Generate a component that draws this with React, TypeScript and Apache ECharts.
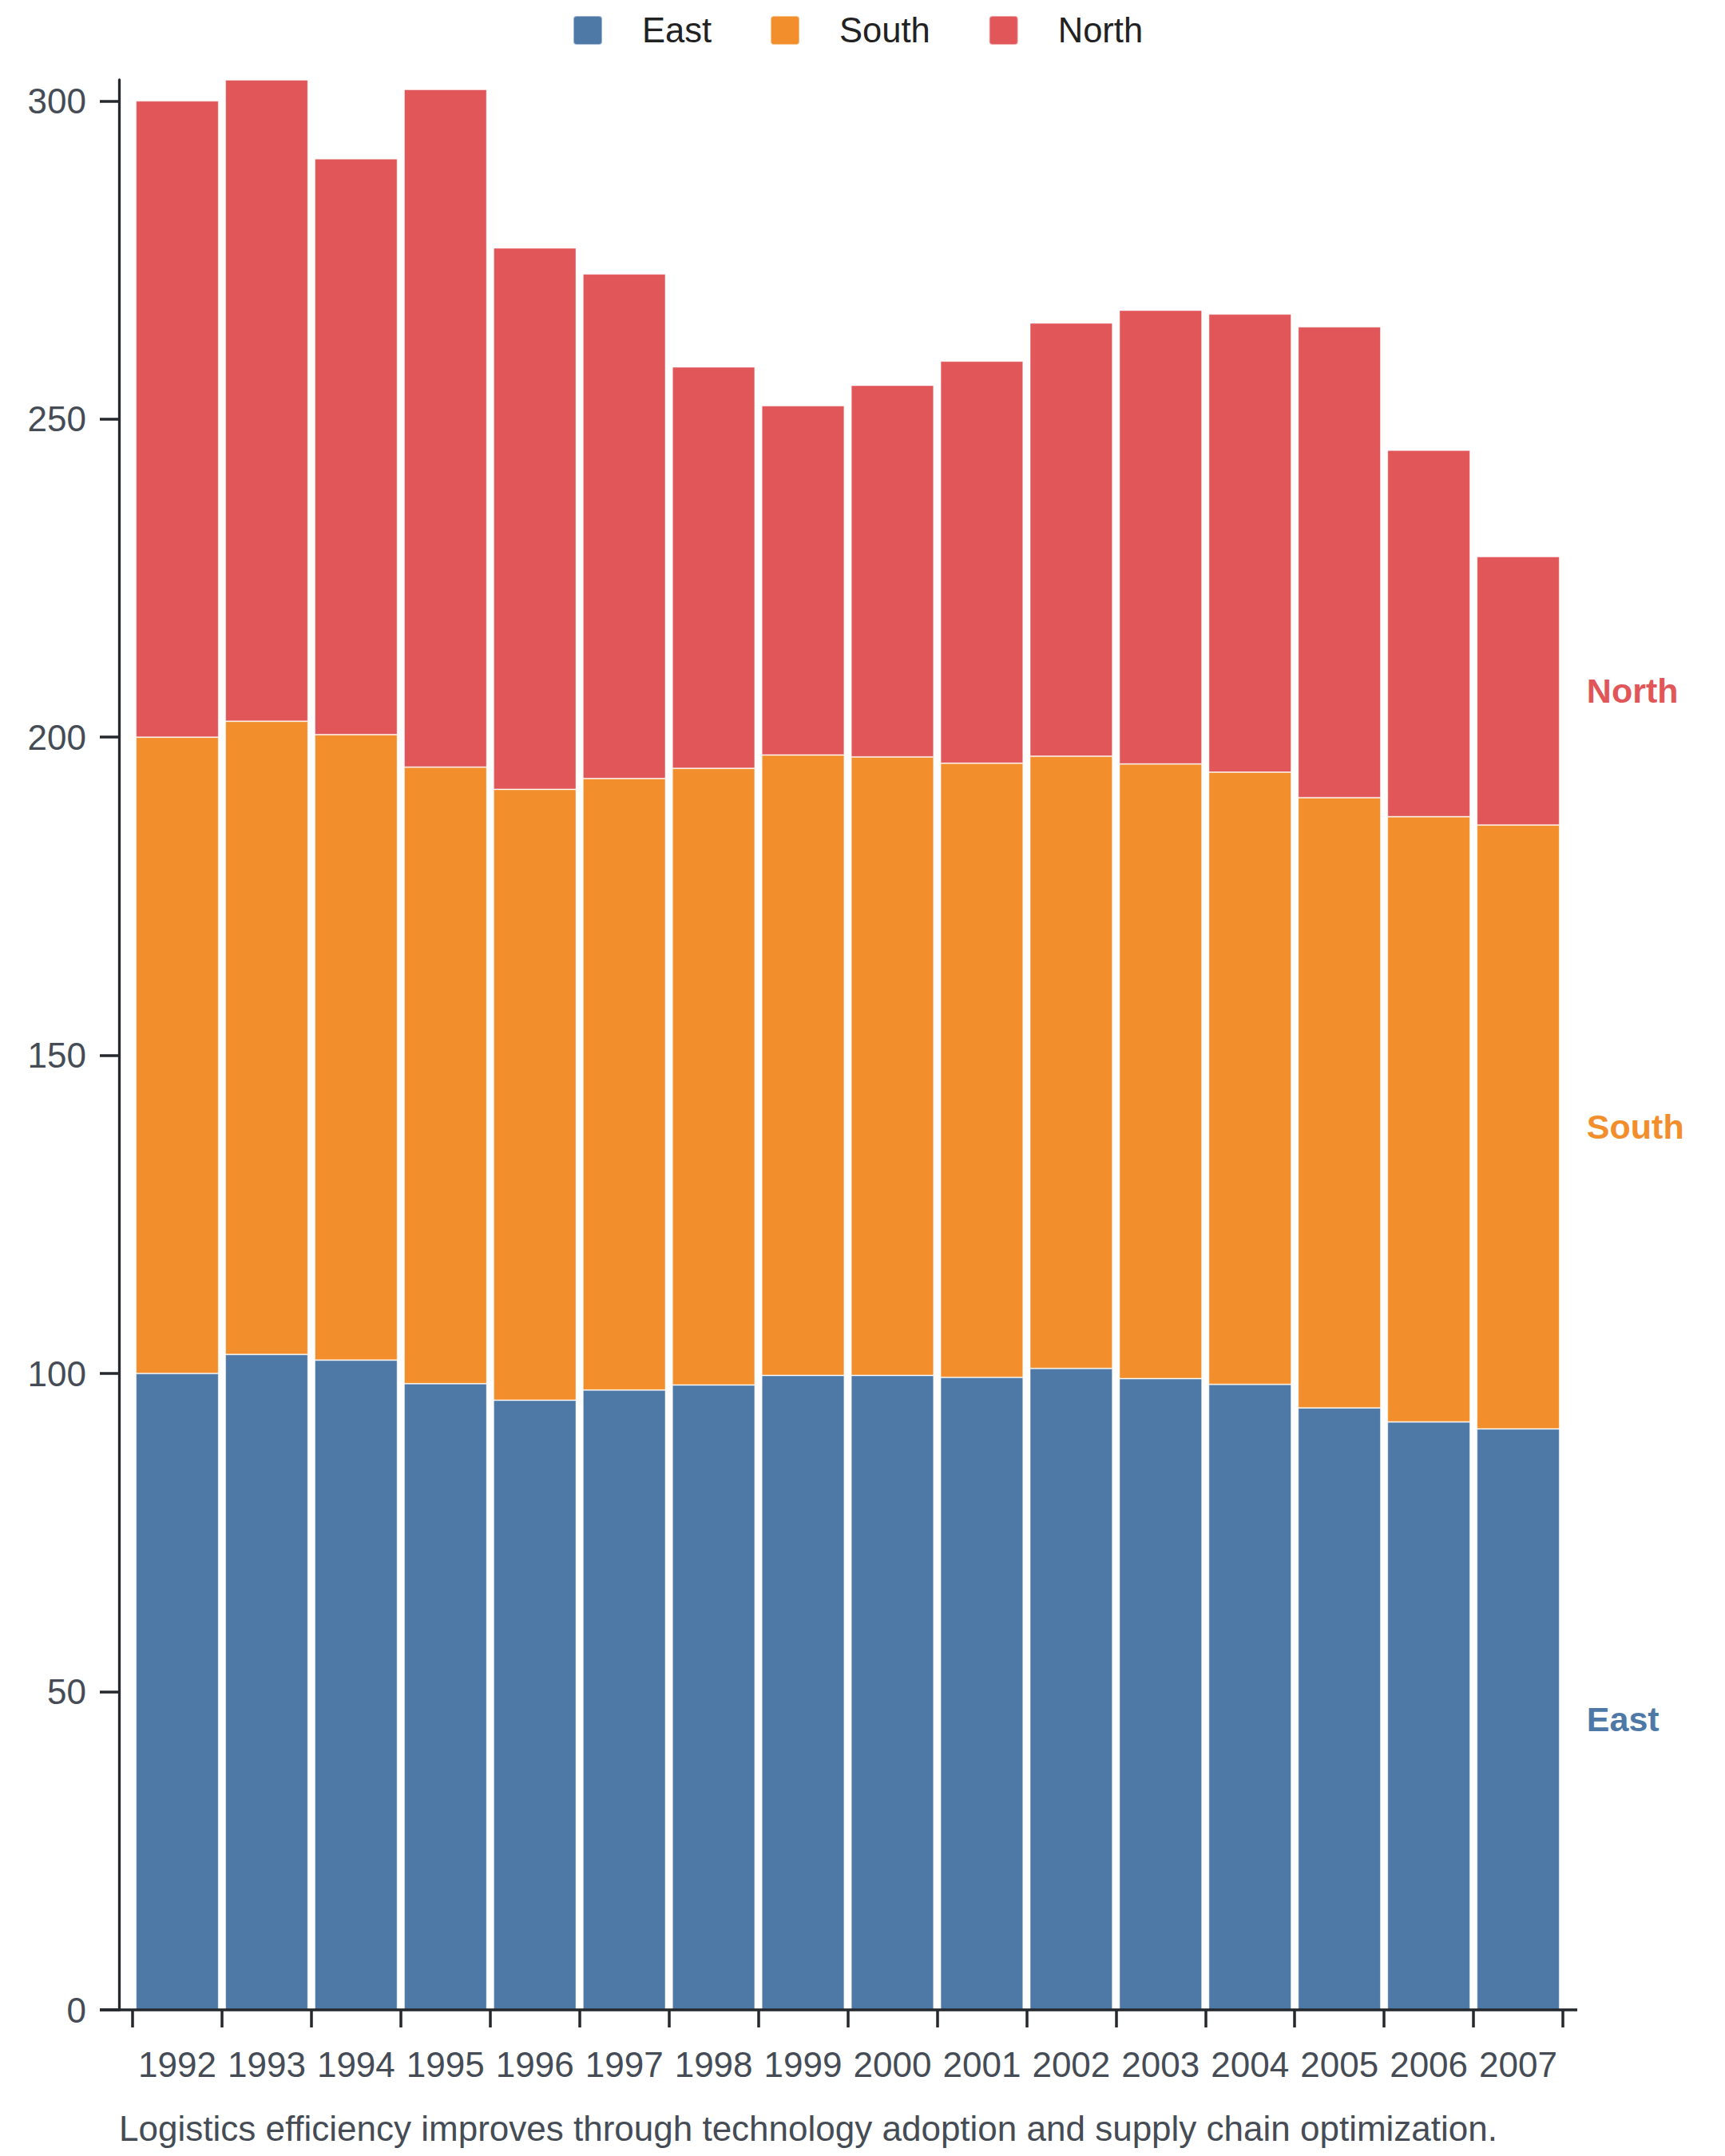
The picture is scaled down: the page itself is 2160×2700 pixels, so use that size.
import React, { useEffect, useRef } from "react";
import * as echarts from "echarts";

const years = ["1992","1993","1994","1995","1996","1997","1998","1999","2000","2001","2002","2003","2004","2005","2006","2007"];
const east = [100, 103, 102.1, 98.4, 95.8, 97.4, 98.2, 99.7, 99.7, 99.4, 100.8, 99.2, 98.3, 94.6, 92.4, 91.3];
const south = [100, 99.5, 98.3, 96.9, 96.0, 96.1, 96.9, 97.5, 97.2, 96.5, 96.2, 96.6, 96.2, 95.9, 95.1, 94.9];
const north = [100, 100.8, 90.5, 106.5, 85.1, 79.3, 63.1, 54.9, 58.4, 63.2, 68.1, 71.3, 72.0, 74.0, 57.6, 42.2];
const yTicks = [0, 50, 100, 150, 200, 250, 300];
const caption = "Logistics efficiency improves through technology adoption and supply chain optimization.";

const COLORS = { East: "#4e79a7", South: "#f28e2b", North: "#e15759" };
const FONT = "'Liberation Sans', Arial, Helvetica, sans-serif";
const AXIS = "#25282c";
const W = 2160;
const H = 2700;
const GRID = { left: 166, right: 203, top: 100, bottom: 183 };
const ICON = "path://M4,0 H32 A4,4 0 0 1 36,4 V32 A4,4 0 0 1 32,36 H4 A4,4 0 0 1 0,32 V4 A4,4 0 0 1 4,0 Z";

export default function App() {
  const ref = useRef<HTMLDivElement>(null);
  useEffect(() => {
    if (!ref.current) return;
    const chart = echarts.init(ref.current, undefined, { renderer: "svg" });
    const totals = years.map((_, i) => east[i] + south[i] + north[i]);
    const maxTotal = Math.max(...totals);
    const last = years.length - 1;
    const baseY = H - GRID.bottom;
    const mk = (name: string, arr: number[]) => ({
      name,
      type: "bar",
      stack: "total",
      barCategoryGap: "7.4%",
      itemStyle: { color: (COLORS as any)[name], borderColor: "rgba(255,255,255,0.45)", borderWidth: 1 },
      data: arr.map((v, i) =>
        i === last
          ? {
              value: v,
              label: {
                show: true,
                position: "right",
                distance: 34,
                formatter: name,
                color: (COLORS as any)[name],
                fontWeight: "bold",
                fontSize: 43,
                fontFamily: FONT,
              },
            }
          : v
      ),
    });
    chart.setOption({
      animation: false,
      textStyle: { fontFamily: FONT },
      legend: {
        data: ["East", "South", "North"],
        left: 712,
        top: 11,
        icon: ICON,
        itemWidth: 36,
        itemHeight: 36,
        itemGap: 73,
        textStyle: { fontSize: 43.5, color: "#222", fontFamily: FONT, padding: [0, 0, 0, 45] },
      },
      grid: { ...GRID, containLabel: false },
      xAxis: {
        type: "category",
        data: years,
        axisLine: { show: false },
        axisTick: { show: true, length: 22, lineStyle: { color: AXIS, width: 3.5 } },
        axisLabel: { fontSize: 44, color: "#454c55", margin: 46, fontFamily: FONT, interval: 0 },
        splitLine: { show: false },
      },
      yAxis: {
        type: "value",
        min: 0,
        max: maxTotal,
        interval: 50,
        offset: 17,
        axisLine: { show: true, lineStyle: { color: AXIS, width: 3.3 } },
        axisTick: { show: true, length: 24, customValues: yTicks, lineStyle: { color: AXIS, width: 3.5 } },
        axisLabel: { fontSize: 44, color: "#454c55", margin: 41, fontFamily: FONT, customValues: yTicks },
        splitLine: { show: false },
      },
      graphic: [
        {
          type: "line",
          z: 10,
          shape: { x1: 125, y1: baseY, x2: 1975, y2: baseY },
          style: { stroke: AXIS, lineWidth: 3.5 },
        },
        {
          type: "text",
          left: 149,
          top: 2643,
          style: { text: caption, fontSize: 44, fill: "#454c55", fontFamily: FONT },
        },
      ],
      series: [mk("East", east), mk("South", south), mk("North", north)],
    });
    return () => chart.dispose();
  }, []);
  return <div ref={ref} style={{ position: "absolute", left: 0, top: 0, width: W, height: H }} />;
}
